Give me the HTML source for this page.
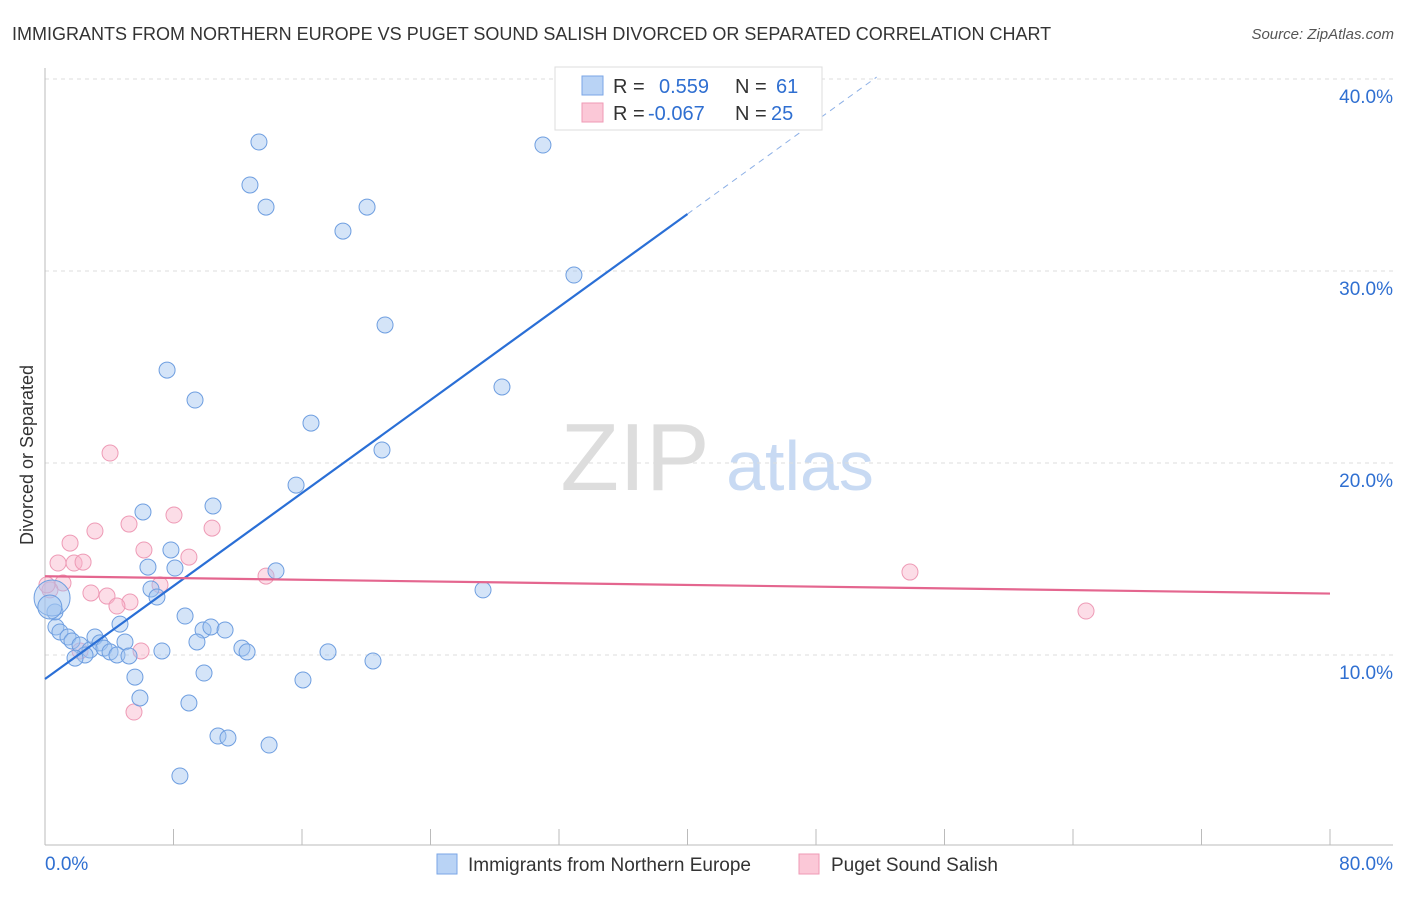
<!DOCTYPE html>
<html><head><meta charset="utf-8"><style>
body{margin:0;background:#fff;font-family:"Liberation Sans",sans-serif;}
svg text{font-family:"Liberation Sans",sans-serif;}
</style></head><body>
<svg id="c" width="1406" height="892">
<text x="12" y="40" font-size="18" fill="#333">IMMIGRANTS FROM NORTHERN EUROPE VS PUGET SOUND SALISH DIVORCED OR SEPARATED CORRELATION CHART</text>
<text x="1394" y="39" font-size="15" fill="#555" font-style="italic" text-anchor="end">Source: ZipAtlas.com</text>
<text transform="translate(33,455) rotate(-90)" font-size="18" fill="#333" text-anchor="middle">Divorced or Separated</text>
<g><text x="635" y="490" font-size="96" fill="#ddd" font-family="Liberation Serif" text-anchor="middle">ZIP</text><text x="800" y="490" font-size="70" fill="#c8daf3" text-anchor="middle">atlas</text></g>
<g id="grid"></g><g id="axes"></g><g id="marks"></g>
<g>
<rect x="555" y="67" width="267" height="63" fill="#fff" stroke="#ddd"/>
<rect x="582" y="76" width="21" height="19" fill="#b9d3f5" stroke="#7aa6e6"/>
<rect x="582" y="103" width="21" height="19" fill="#fbc8d7" stroke="#ef9ab5"/>
<text x="613" y="93" font-size="20" fill="#333">R = </text><text x="659" y="93" font-size="20" fill="#2f6fd1">0.559</text>
<text x="735" y="93" font-size="20" fill="#333">N = </text><text x="776" y="93" font-size="20" fill="#2f6fd1">61</text>
<text x="613" y="120" font-size="20" fill="#333">R = </text><text x="648" y="120" font-size="20" fill="#2f6fd1">-0.067</text>
<text x="735" y="120" font-size="20" fill="#333">N = </text><text x="771" y="120" font-size="20" fill="#2f6fd1">25</text>
</g>
<g>
<rect x="437" y="854" width="20" height="20" fill="#b9d3f5" stroke="#7aa6e6"/>
<text x="468" y="871" font-size="19" fill="#333">Immigrants from Northern Europe</text>
<rect x="799" y="854" width="20" height="20" fill="#fbc8d7" stroke="#ef9ab5"/>
<text x="831" y="871" font-size="19" fill="#333">Puget Sound Salish</text>
</g>
</svg>
<script>
const blueX=[13.32,31.0,12.76,13.76,20.05,18.55,32.93,21.17,7.60,28.45,9.34,16.56,20.98,15.63,10.46,6.10,7.84,6.41,8.09,14.38,6.60,27.27,6.97,8.72,4.67,9.84,10.33,11.21,4.98,9.46,12.26,12.58,17.62,7.28,20.42,9.90,5.60,16.06,5.91,8.96,10.77,11.39,13.95,8.40,0.62,0.68,0.93,1.43,1.68,2.18,2.80,3.11,3.42,3.67,4.05,4.48,2.49,1.87,5.23,0.44,0.3];
const blueY=[36.72,36.56,34.48,33.33,33.33,32.08,29.79,27.19,24.84,23.96,23.28,22.08,20.68,18.85,17.76,17.45,15.47,14.58,14.53,14.38,13.44,13.39,13.02,12.03,11.61,11.30,11.46,11.30,10.68,10.68,10.36,10.16,10.16,10.21,9.69,9.06,8.85,8.70,7.76,7.50,5.78,5.68,5.31,3.70,12.24,11.46,11.20,10.94,10.73,10.52,10.26,10.94,10.63,10.36,10.16,10.0,10.0,9.84,9.95,12.97,12.5];
const pinkX=[4.05,1.56,3.11,5.23,8.03,10.40,6.16,8.96,0.81,1.81,2.37,1.12,2.86,3.86,5.29,4.48,7.16,13.76,53.85,64.81,5.98,2.18,5.54,0.31,0.12];
const pinkY=[20.52,15.83,16.46,16.82,17.29,16.61,15.47,15.10,14.79,14.79,14.84,13.75,13.23,13.07,12.76,12.55,13.65,14.11,14.32,12.29,10.21,10.21,7.03,13.39,13.65];
const blueTrend=[8.75,32.97];
const pinkTrend=[14.1,13.2];
const yTicks=[10,20,30,40];
const xTickVals=[0,8,16,24,32,40,48,56,64,72,80];
const X=v=>45+v/80*1285, Y=v=>847-v*19.2;
const NS='http://www.w3.org/2000/svg';
function mk(t,a,p){const e=document.createElementNS(NS,t);for(const k in a)e.setAttribute(k,a[k]);p.appendChild(e);return e;}
const grid=document.getElementById('grid'),axes=document.getElementById('axes'),marks=document.getElementById('marks');
yTicks.forEach(v=>{
 const l=mk('line',{x1:45,x2:1393,y1:Y(v),y2:Y(v),stroke:'#ddd','stroke-dasharray':'4,4'},grid);
 
 
 const t=mk('text',{x:1393,y:Y(v)+24,'font-size':19,fill:'#2f6fd1','text-anchor':'end'},axes);t.textContent=v.toFixed(1)+'%';
 
 
});
mk('line',{x1:45,x2:45,y1:68,y2:845,stroke:'#bbb'},axes);
mk('line',{x1:45,x2:1393,y1:845,y2:845,stroke:'#bbb'},axes);
xTickVals.forEach(v=>{const l=mk('line',{x1:X(v),x2:X(v),y1:829,y2:845,stroke:'#bbb'},axes);
 
 });
let t0=mk('text',{x:45,y:870,'font-size':19,fill:'#2f6fd1'},axes);t0.textContent='0.0%';


let t1=mk('text',{x:1393,y:870,'font-size':19,fill:'#2f6fd1','text-anchor':'end'},axes);t1.textContent='80.0%';


pinkX.forEach((x,i)=>{const c=mk('circle',{cx:X(x),cy:Y(pinkY[i]),r:8,fill:'rgba(248,180,202,0.45)',stroke:'#ee9bb6','stroke-width':1},marks);
 
 });
blueX.forEach((x,i)=>{const c=mk('circle',{cx:X(x),cy:Y(blueY[i]),r:i>=59?(i==59?18:12):8,fill:'rgba(160,196,240,0.45)',stroke:'#6e9ee0','stroke-width':1},marks);
 
 });
const bs=(blueTrend[1]-blueTrend[0])/40;
let bl=mk('line',{x1:X(0),y1:Y(blueTrend[0]),x2:X(40),y2:Y(blueTrend[1]),stroke:'#2a6fd6','stroke-width':2.2},marks);


const xe=(40.1-blueTrend[0])/bs;
let bd=mk('line',{x1:X(40),y1:Y(blueTrend[1]),x2:X(xe),y2:Y(blueTrend[0]+bs*xe),stroke:'#8db0e6','stroke-width':1,'stroke-dasharray':'6,5'},marks);


let pl=mk('line',{x1:X(0),y1:Y(pinkTrend[0]),x2:X(80),y2:Y(pinkTrend[1]),stroke:'#e4668f','stroke-width':2.2},marks);


</script>
</body></html>
